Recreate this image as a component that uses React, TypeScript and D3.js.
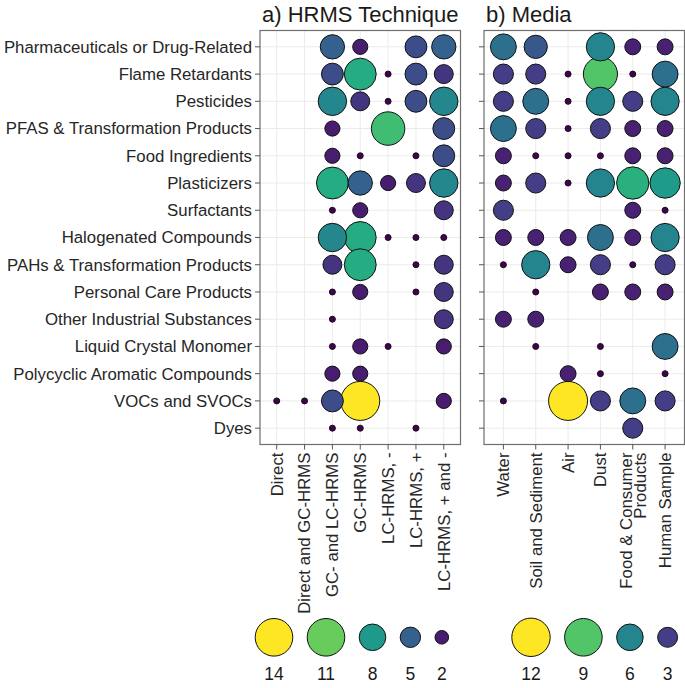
import React from "react";
import * as d3 from "d3";

const categories = [
  "Pharmaceuticals or Drug-Related",
  "Flame Retardants",
  "Pesticides",
  "PFAS & Transformation Products",
  "Food Ingredients",
  "Plasticizers",
  "Surfactants",
  "Halogenated Compounds",
  "PAHs & Transformation Products",
  "Personal Care Products",
  "Other Industrial Substances",
  "Liquid Crystal Monomer",
  "Polycyclic Aromatic Compounds",
  "VOCs and SVOCs",
  "Dyes",
];

const techniques = [
  "Direct",
  "Direct and GC-HRMS",
  "GC- and LC-HRMS",
  "GC-HRMS",
  "LC-HRMS, -",
  "LC-HRMS, +",
  "LC-HRMS, + and -",
];

const media = ["Water", "Soil and Sediment", "Air", "Dust", "Food & Consumer\nProducts", "Human Sample"];

// counts per category (rows) x technique (columns), 0 = no study
const countsTechnique = [
  [0, 0, 5, 2, 0, 4, 5],
  [0, 0, 4, 9, 1, 4, 3],
  [0, 0, 7, 3, 1, 4, 7],
  [0, 0, 2, 0, 10, 0, 4],
  [0, 0, 2, 1, 0, 1, 4],
  [0, 0, 9, 5, 2, 3, 7],
  [0, 0, 1, 2, 0, 0, 3],
  [0, 0, 7, 9, 1, 1, 1],
  [0, 0, 3, 9, 0, 1, 3],
  [0, 0, 1, 2, 0, 1, 3],
  [0, 0, 1, 0, 0, 0, 3],
  [0, 0, 1, 2, 1, 0, 2],
  [0, 0, 2, 2, 0, 0, 0],
  [1, 1, 4, 14, 0, 0, 2],
  [0, 0, 1, 1, 0, 1, 0],
];

// counts per category (rows) x media (columns)
const countsMedia = [
  [5, 4, 0, 6, 2, 2],
  [3, 3, 1, 9, 1, 5],
  [3, 5, 1, 6, 3, 6],
  [5, 3, 1, 3, 2, 2],
  [2, 1, 1, 1, 2, 2],
  [2, 3, 1, 6, 8, 7],
  [3, 0, 0, 0, 2, 1],
  [2, 2, 2, 5, 2, 6],
  [1, 6, 2, 3, 1, 3],
  [0, 1, 0, 2, 2, 2],
  [2, 2, 0, 0, 0, 0],
  [0, 1, 0, 1, 0, 5],
  [0, 0, 2, 1, 0, 1],
  [1, 0, 12, 3, 5, 3],
  [0, 0, 0, 0, 3, 0],
];

const legendTechnique = [14, 11, 8, 5, 2];
const legendMedia = [12, 9, 6, 3];

const FONT = "'Liberation Sans', Arial, Helvetica, sans-serif";
const AXIS_FS = 16.8;

type PanelProps = {
  cols: string[];
  counts: number[][];
  x0: number;
  x1: number;
  title: string;
  showY: boolean;
};

const Y0 = 30.5;
const Y1 = 444.5;

const yScale = d3.scalePoint<string>().domain(categories).range([Y0, Y1]).padding(0.6);

function Panel({ cols, counts, x0, x1, title, showY }: PanelProps) {
  const x = d3.scalePoint<string>().domain(cols).range([x0, x1]).padding(0.6);
  const vals = counts.flat().filter((v) => v > 0);
  const vmin = d3.min(vals) as number;
  const vmax = d3.max(vals) as number;
  const r = d3.scaleSqrt().domain([0, vmax - vmin]).range([0, 1]);
  const rad = (v: number) => 3 + 16.5 * r(v - vmin);
  const color = d3.scaleSequential(d3.interpolateViridis).domain([vmin, vmax]);
  const gridColor = "#ebebeb";
  const points: { c: string; k: string; v: number }[] = [];
  counts.forEach((row, i) =>
    row.forEach((v, j) => {
      if (v > 0) points.push({ c: categories[i], k: cols[j], v });
    })
  );
  points.sort((a, b) => b.v - a.v);
  return (
    <g>
      <text x={x0 + 2} y={21.7} fontSize={22} fontFamily={FONT} fill="#1a1a1a">
        {title}
      </text>
      <rect x={x0} y={Y0} width={x1 - x0} height={Y1 - Y0} fill="white" />
      {categories.map((c) => (
        <line key={"gy" + c} x1={x0} x2={x1} y1={yScale(c)} y2={yScale(c)} stroke={gridColor} strokeWidth={1} />
      ))}
      {cols.map((k) => (
        <line key={"gx" + k} x1={x(k)} x2={x(k)} y1={Y0} y2={Y1} stroke={gridColor} strokeWidth={1} />
      ))}
      {points.map((p, i) => (
        <circle
          key={i}
          cx={x(p.k)}
          cy={yScale(p.c)}
          r={rad(p.v)}
          fill={color(p.v)}
          stroke="#111"
          strokeWidth={1}
        />
      ))}
      <rect x={x0} y={Y0} width={x1 - x0} height={Y1 - Y0} fill="none" stroke="#6e6e6e" strokeWidth={1.2} />
      {categories.map((c) => (
        <g key={"ty" + c}>
          <line x1={x0 - 5} x2={x0} y1={yScale(c)} y2={yScale(c)} stroke="#555" strokeWidth={1} />
          {showY && (
            <text
              x={x0 - 8}
              y={yScale(c)}
              dy="0.35em"
              textAnchor="end"
              fontSize={AXIS_FS}
              fontFamily={FONT}
              fill="#262626"
            >
              {c}
            </text>
          )}
        </g>
      ))}
      {cols.map((k) => {
        const lines = k.split("\n");
        const lh = 14;
        return (
          <g key={"tx" + k}>
            <line x1={x(k)} x2={x(k)} y1={Y1} y2={Y1 + 5} stroke="#555" strokeWidth={1} />
            {lines.map((ln, li) => (
              <text
                key={li}
                transform={`translate(${(x(k) as number) + (li - (lines.length - 1) / 2) * lh},${Y1 + 8}) rotate(-90)`}
                dy="0.35em"
                textAnchor="end"
                fontSize={AXIS_FS}
                fontFamily={FONT}
                fill="#262626"
              >
                {ln}
              </text>
            ))}
          </g>
        );
      })}
    </g>
  );
}

function Legend({
  values,
  startX,
  vmin,
  vmax,
  rScale,
}: {
  values: number[];
  startX: number;
  vmin: number;
  vmax: number;
  rScale: (v: number) => number;
}) {
  const color = d3.scaleSequential(d3.interpolateViridis).domain([vmin, vmax]);
  const gap = 14.4;
  let cursor = startX;
  const items = values.map((v) => {
    const rr = rScale(v);
    const cx = cursor + rr;
    cursor = cx + rr + gap;
    return { v, cx, rr };
  });
  return (
    <g>
      {items.map((it) => (
        <g key={it.v}>
          <circle cx={it.cx} cy={637.3} r={it.rr} fill={color(it.v)} stroke="#111" strokeWidth={1} />
          <text x={it.cx} y={680} textAnchor="middle" fontSize={17.5} fontFamily={FONT} fill="#1a1a1a">
            {it.v}
          </text>
        </g>
      ))}
    </g>
  );
}

export default function App() {
  const legendRA = d3.scaleLinear().domain([2, 5, 8, 11]).range([6.8, 10.2, 13.3, 18.8]).clamp(true);
  const legendRB = d3.scaleLinear().domain([3, 6, 9, 12]).range([10, 13.3, 18.8, 19.2]).clamp(true);
  return (
    <svg
      width={685}
      height={688}
      style={{ position: "absolute", left: 0, top: 0, background: "white" }}
    >
      <rect width={685} height={688} fill="white" />
      <Panel cols={techniques} counts={countsTechnique} x0={260} x1={460.5} title="a) HRMS Technique" showY={true} />
      <Panel cols={media} counts={countsMedia} x0={484} x1={684.5} title="b) Media" showY={false} />
      <Legend values={legendTechnique} startX={255.2} vmin={1} vmax={14} rScale={legendRA} />
      <Legend values={legendMedia} startX={511.8} vmin={1} vmax={12} rScale={legendRB} />
    </svg>
  );
}
